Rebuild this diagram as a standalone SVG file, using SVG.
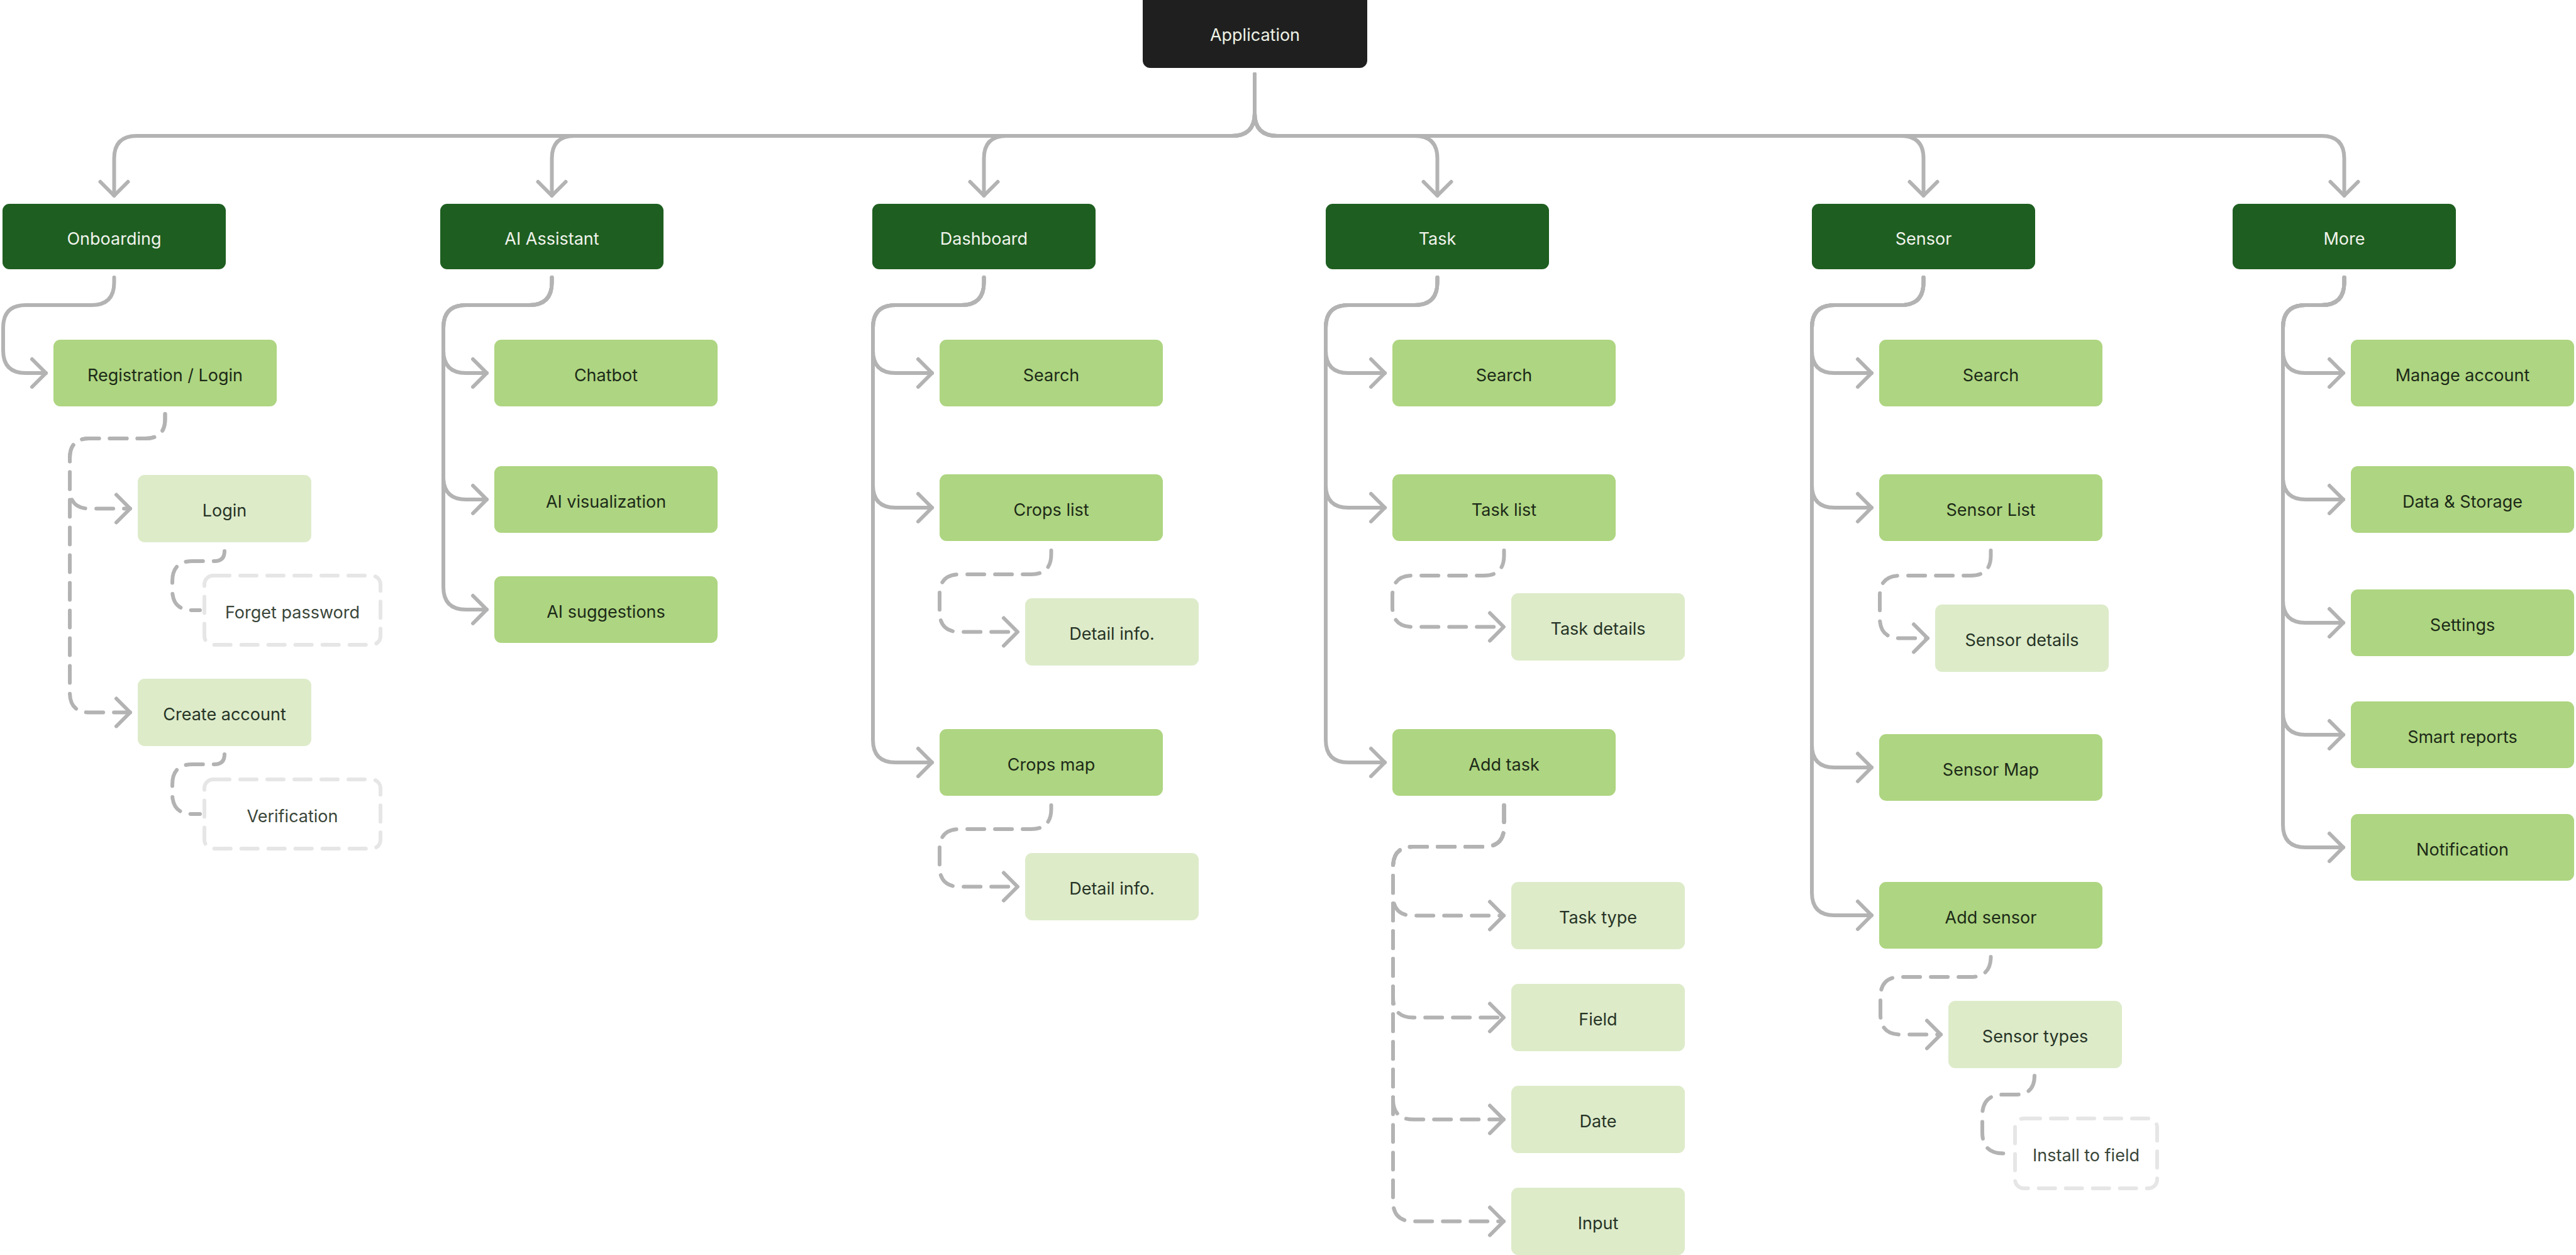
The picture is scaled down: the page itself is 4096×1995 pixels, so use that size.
<svg xmlns="http://www.w3.org/2000/svg" width="4096" height="1995" viewBox="0 0 4096 1995">
<style>
  text { font-family: Inter, "Noto Sans", "Liberation Sans", sans-serif; font-size: 27px; text-anchor: middle; }
  .root rect { fill: #1F1F1F; }
  .root text { fill: #EEF3E6; }
  .l1 rect { fill: #1E5E20; }
  .l1 text { fill: #F0F3EC; }
  .l2 rect { fill: #AED581; }
  .l2 text { fill: #1C2A18; }
  .l3 rect { fill: #DDEBC9; }
  .l3 text { fill: #263326; }
  .ghost rect { fill: #FFFFFF; stroke: #E6E6E6; stroke-width: 6; stroke-dasharray: 26 17; stroke-linecap: round; }
  .ghost text { fill: #3A463A; }
  .c { fill: none; stroke: #B3B3B3; stroke-width: 6; stroke-linecap: round; stroke-linejoin: round; }
  .a { marker-end: url(#arr); }
  .d { stroke-dasharray: 27 17; }
</style>
<defs>
  <marker id="arr" markerUnits="userSpaceOnUse" markerWidth="60" markerHeight="60" viewBox="-30 -30 60 60" refX="0" refY="0" orient="auto" overflow="visible">
    <path d="M-22,-22 L0,0 L-22,22" fill="none" stroke="#B3B3B3" stroke-width="6" stroke-linecap="round" stroke-linejoin="round"/>
  </marker>
</defs>
<rect x="0" y="0" width="4096" height="1995" fill="#FFFFFF"/>

<g id="connectors">
  <!-- Application to level 1 -->
  <path class="c a" d="M1995,118 V180 Q1995,216 1959,216 H217.5 Q181.5,216 181.5,252 V311"/>
  <path class="c a" d="M1995,118 V180 Q1995,216 1959,216 H913.5 Q877.5,216 877.5,252 V311"/>
  <path class="c a" d="M1995,118 V180 Q1995,216 1959,216 H1600.5 Q1564.5,216 1564.5,252 V311"/>
  <path class="c a" d="M1995,118 V180 Q1995,216 2031,216 H2249.5 Q2285.5,216 2285.5,252 V311"/>
  <path class="c a" d="M1995,118 V180 Q1995,216 2031,216 H3022.5 Q3058.5,216 3058.5,252 V311"/>
  <path class="c a" d="M1995,118 V180 Q1995,216 2031,216 H3691.5 Q3727.5,216 3727.5,252 V311"/>

  <!-- Onboarding -->
  <path class="c a" d="M181.5,441 V449 Q181.5,485 145.5,485 H41 Q5,485 5,521 V557 Q5,593 41,593 H73"/>
  <!-- AI Assistant -->
  <path class="c a" d="M877.5,441 V449 Q877.5,485 841.5,485 H741 Q705,485 705,521 V557 Q705,593 741,593 H774"/>
  <path class="c a" d="M877.5,441 V449 Q877.5,485 841.5,485 H741 Q705,485 705,521 V758 Q705,794 741,794 H774"/>
  <path class="c a" d="M877.5,441 V449 Q877.5,485 841.5,485 H741 Q705,485 705,521 V933 Q705,969 741,969 H774"/>
  <!-- Dashboard -->
  <path class="c a" d="M1564.5,441 V449 Q1564.5,485 1528.5,485 H1424 Q1388,485 1388,521 V557 Q1388,593 1424,593 H1482"/>
  <path class="c a" d="M1564.5,441 V449 Q1564.5,485 1528.5,485 H1424 Q1388,485 1388,521 V771 Q1388,807 1424,807 H1482"/>
  <path class="c a" d="M1564.5,441 V449 Q1564.5,485 1528.5,485 H1424 Q1388,485 1388,521 V1176 Q1388,1212 1424,1212 H1482"/>
  <!-- Task -->
  <path class="c a" d="M2285.5,441 V449 Q2285.5,485 2249.5,485 H2144 Q2108,485 2108,521 V557 Q2108,593 2144,593 H2202"/>
  <path class="c a" d="M2285.5,441 V449 Q2285.5,485 2249.5,485 H2144 Q2108,485 2108,521 V771 Q2108,807 2144,807 H2202"/>
  <path class="c a" d="M2285.5,441 V449 Q2285.5,485 2249.5,485 H2144 Q2108,485 2108,521 V1176 Q2108,1212 2144,1212 H2202"/>
  <!-- Sensor -->
  <path class="c a" d="M3058.5,441 V449 Q3058.5,485 3022.5,485 H2917 Q2881,485 2881,521 V557 Q2881,593 2917,593 H2976"/>
  <path class="c a" d="M3058.5,441 V449 Q3058.5,485 3022.5,485 H2917 Q2881,485 2881,521 V771 Q2881,807 2917,807 H2976"/>
  <path class="c a" d="M3058.5,441 V449 Q3058.5,485 3022.5,485 H2917 Q2881,485 2881,521 V1184 Q2881,1220 2917,1220 H2976"/>
  <path class="c a" d="M3058.5,441 V449 Q3058.5,485 3022.5,485 H2917 Q2881,485 2881,521 V1419 Q2881,1455 2917,1455 H2976"/>
  <!-- More -->
  <path class="c a" d="M3727.5,441 V449 Q3727.5,485 3691.5,485 H3666 Q3630,485 3630,521 V557 Q3630,593 3666,593 H3726"/>
  <path class="c a" d="M3727.5,441 V449 Q3727.5,485 3691.5,485 H3666 Q3630,485 3630,521 V758 Q3630,794 3666,794 H3726"/>
  <path class="c a" d="M3727.5,441 V449 Q3727.5,485 3691.5,485 H3666 Q3630,485 3630,521 V954 Q3630,990 3666,990 H3726"/>
  <path class="c a" d="M3727.5,441 V449 Q3727.5,485 3691.5,485 H3666 Q3630,485 3630,521 V1132 Q3630,1168 3666,1168 H3726"/>
  <path class="c a" d="M3727.5,441 V449 Q3727.5,485 3691.5,485 H3666 Q3630,485 3630,521 V1311 Q3630,1347 3666,1347 H3726"/>

  <!-- Dashed: Registration / Login -->
  <path class="c d a" d="M262.5,658 V666 Q262.5,697 231.5,697 H142 Q111,697 111,728 V777 Q111,808.5 142,808.5 H207"/>
  <path class="c d a" d="M262.5,658 V666 Q262.5,697 231.5,697 H142 Q111,697 111,728 V1101 Q111,1132.5 142,1132.5 H207"/>
  <path class="c d" d="M357,876 Q357,892 341,892 H306 Q274,892 274,924 V938 Q274,970 306,970 H318"/>
  <path class="c d" d="M357,1199 Q357,1215 341,1215 H306 Q274,1215 274,1247 V1262 Q274,1294 306,1294 H318"/>

  <!-- Dashed: Dashboard -->
  <path class="c d a" d="M1671.5,875 V881 Q1671.5,913 1639.5,913 H1526 Q1494,913 1494,945 V972.5 Q1494,1004.5 1526,1004.5 H1618"/>
  <path class="c d a" d="M1671.5,1280 V1286 Q1671.5,1318 1639.5,1318 H1526 Q1494,1318 1494,1350 V1377.5 Q1494,1409.5 1526,1409.5 H1618"/>

  <!-- Dashed: Task -->
  <path class="c d a" d="M2391.5,875 V883 Q2391.5,915 2359.5,915 H2246 Q2214,915 2214,947 V964.5 Q2214,996.5 2246,996.5 H2391"/>
  <path class="c d a" d="M2391.5,1280 V1314 Q2391.5,1346 2359.5,1346 H2247 Q2215,1346 2215,1378 V1423.5 Q2215,1455.5 2247,1455.5 H2391"/>
  <path class="c d a" d="M2391.5,1280 V1314 Q2391.5,1346 2359.5,1346 H2247 Q2215,1346 2215,1378 V1585.5 Q2215,1617.5 2247,1617.5 H2391"/>
  <path class="c d a" d="M2391.5,1280 V1314 Q2391.5,1346 2359.5,1346 H2247 Q2215,1346 2215,1378 V1747.5 Q2215,1779.5 2247,1779.5 H2391"/>
  <path class="c d a" d="M2391.5,1280 V1314 Q2391.5,1346 2359.5,1346 H2247 Q2215,1346 2215,1378 V1909.5 Q2215,1941.5 2247,1941.5 H2391"/>

  <!-- Dashed: Sensor -->
  <path class="c d a" d="M3165.5,875 V883 Q3165.5,915 3133.5,915 H3021 Q2989,915 2989,947 V982.5 Q2989,1014.5 3021,1014.5 H3065"/>
  <path class="c d a" d="M3165.5,1521 Q3165.5,1553 3133.5,1553 H3022 Q2990,1553 2990,1585 V1612.5 Q2990,1644.5 3022,1644.5 H3086"/>
  <path class="c d" d="M3235,1710 Q3235,1740 3205,1740 H3185 Q3152,1740 3152,1773 V1800 Q3152,1833.5 3185,1833.5 H3194"/>
</g>

<g id="application" class="root">
  <rect x="1817" y="-12" width="357" height="120" rx="12"/>
  <text x="1995.5" y="65">Application</text>
</g>

<g id="onboarding" class="l1"><rect x="4" y="324" width="355" height="104" rx="11"/><text x="181.5" y="389">Onboarding</text></g>
<g id="ai-assistant" class="l1"><rect x="700" y="324" width="355" height="104" rx="11"/><text x="877.5" y="389">AI Assistant</text></g>
<g id="dashboard" class="l1"><rect x="1387" y="324" width="355" height="104" rx="11"/><text x="1564.5" y="389">Dashboard</text></g>
<g id="task" class="l1"><rect x="2108" y="324" width="355" height="104" rx="11"/><text x="2285.5" y="389">Task</text></g>
<g id="sensor" class="l1"><rect x="2881" y="324" width="355" height="104" rx="11"/><text x="3058.5" y="389">Sensor</text></g>
<g id="more" class="l1"><rect x="3550" y="324" width="355" height="104" rx="11"/><text x="3727.5" y="389">More</text></g>

<g id="registration-login" class="l2"><rect x="85" y="540" width="355" height="106" rx="11"/><text x="262.5" y="606">Registration / Login</text></g>
<g id="login" class="l3"><rect x="219" y="755" width="276" height="107" rx="11"/><text x="357" y="821">Login</text></g>
<g id="forget-password" class="ghost"><rect x="325" y="915" width="280" height="110" rx="14"/><text x="465" y="983">Forget password</text></g>
<g id="create-account" class="l3"><rect x="219" y="1079" width="276" height="107" rx="11"/><text x="357" y="1145">Create account</text></g>
<g id="verification" class="ghost"><rect x="325" y="1239" width="280" height="110" rx="14"/><text x="465" y="1307">Verification</text></g>

<g id="chatbot" class="l2"><rect x="786" y="540" width="355" height="106" rx="11"/><text x="963.5" y="606">Chatbot</text></g>
<g id="ai-visualization" class="l2"><rect x="786" y="741" width="355" height="106" rx="11"/><text x="963.5" y="807">AI visualization</text></g>
<g id="ai-suggestions" class="l2"><rect x="786" y="916" width="355" height="106" rx="11"/><text x="963.5" y="982">AI suggestions</text></g>

<g id="dashboard-search" class="l2"><rect x="1494" y="540" width="355" height="106" rx="11"/><text x="1671.5" y="606">Search</text></g>
<g id="crops-list" class="l2"><rect x="1494" y="754" width="355" height="106" rx="11"/><text x="1671.5" y="820">Crops list</text></g>
<g id="crops-list-detail" class="l3"><rect x="1630" y="951" width="276" height="107" rx="11"/><text x="1768" y="1017">Detail info.</text></g>
<g id="crops-map" class="l2"><rect x="1494" y="1159" width="355" height="106" rx="11"/><text x="1671.5" y="1225">Crops map</text></g>
<g id="crops-map-detail" class="l3"><rect x="1630" y="1356" width="276" height="107" rx="11"/><text x="1768" y="1422">Detail info.</text></g>

<g id="task-search" class="l2"><rect x="2214" y="540" width="355" height="106" rx="11"/><text x="2391.5" y="606">Search</text></g>
<g id="task-list" class="l2"><rect x="2214" y="754" width="355" height="106" rx="11"/><text x="2391.5" y="820">Task list</text></g>
<g id="task-details" class="l3"><rect x="2403" y="943" width="276" height="107" rx="11"/><text x="2541" y="1009">Task details</text></g>
<g id="add-task" class="l2"><rect x="2214" y="1159" width="355" height="106" rx="11"/><text x="2391.5" y="1225">Add task</text></g>
<g id="task-type" class="l3"><rect x="2403" y="1402" width="276" height="107" rx="11"/><text x="2541" y="1468">Task type</text></g>
<g id="field" class="l3"><rect x="2403" y="1564" width="276" height="107" rx="11"/><text x="2541" y="1630">Field</text></g>
<g id="date" class="l3"><rect x="2403" y="1726" width="276" height="107" rx="11"/><text x="2541" y="1792">Date</text></g>
<g id="input" class="l3"><rect x="2403" y="1888" width="276" height="107" rx="11"/><text x="2541" y="1954">Input</text></g>

<g id="sensor-search" class="l2"><rect x="2988" y="540" width="355" height="106" rx="11"/><text x="3165.5" y="606">Search</text></g>
<g id="sensor-list" class="l2"><rect x="2988" y="754" width="355" height="106" rx="11"/><text x="3165.5" y="820">Sensor List</text></g>
<g id="sensor-details" class="l3"><rect x="3077" y="961" width="276" height="107" rx="11"/><text x="3215" y="1027">Sensor details</text></g>
<g id="sensor-map" class="l2"><rect x="2988" y="1167" width="355" height="106" rx="11"/><text x="3165.5" y="1233">Sensor Map</text></g>
<g id="add-sensor" class="l2"><rect x="2988" y="1402" width="355" height="106" rx="11"/><text x="3165.5" y="1468">Add sensor</text></g>
<g id="sensor-types" class="l3"><rect x="3098" y="1591" width="276" height="107" rx="11"/><text x="3236" y="1657">Sensor types</text></g>
<g id="install-to-field" class="ghost"><rect x="3204" y="1778" width="226" height="111" rx="14"/><text x="3317" y="1846">Install to field</text></g>

<g id="manage-account" class="l2"><rect x="3738" y="540" width="355" height="106" rx="11"/><text x="3915.5" y="606">Manage account</text></g>
<g id="data-storage" class="l2"><rect x="3738" y="741" width="355" height="106" rx="11"/><text x="3915.5" y="807">Data &amp; Storage</text></g>
<g id="settings" class="l2"><rect x="3738" y="937" width="355" height="106" rx="11"/><text x="3915.5" y="1003">Settings</text></g>
<g id="smart-reports" class="l2"><rect x="3738" y="1115" width="355" height="106" rx="11"/><text x="3915.5" y="1181">Smart reports</text></g>
<g id="notification" class="l2"><rect x="3738" y="1294" width="355" height="106" rx="11"/><text x="3915.5" y="1360">Notification</text></g>
</svg>
